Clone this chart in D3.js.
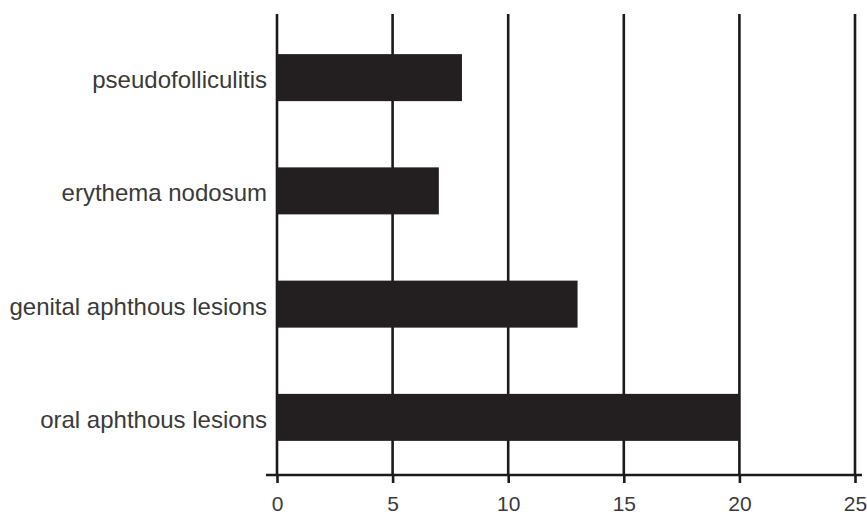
<!DOCTYPE html>
<html><head><meta charset="utf-8">
<script src="https://cdn.jsdelivr.net/npm/d3@7"></script>
<style>body{margin:0;background:#fff}</style>
</head><body>
<svg id="c" width="867" height="514"></svg>
<script>
const categories = ["pseudofolliculitis","erythema nodosum","genital aphthous lesions","oral aphthous lesions"];
const values = [8, 7, 13, 20];
const ticks = [0, 5, 10, 15, 20, 25];

const svg = d3.select("#c");
const x = d3.scaleLinear().domain([0,25]).range([277,855]);
const y = d3.scaleBand().domain(categories).range([21,474]).paddingInner(0.585).paddingOuter(0.2925);
const ink = "#1c1a1b";
const font = "'Liberation Sans', Arial, sans-serif";

// gridlines
svg.append("g").selectAll("line").data(ticks).join("line")
  .attr("x1", d=>x(d)).attr("x2", d=>x(d)).attr("y1", 14).attr("y2", 475)
  .attr("stroke", ink).attr("stroke-width", 2.6);

// bars
svg.append("g").selectAll("rect").data(values).join("rect")
  .attr("x", x(0)).attr("y", (d,i)=>y(categories[i]))
  .attr("width", d=>x(d)-x(0)).attr("height", y.bandwidth())
  .attr("fill", "#231f20");

// x axis
const xa = svg.append("g").attr("transform","translate(0,475)")
  .call(d3.axisBottom(x).tickValues(ticks).tickSize(8).tickPadding(13).tickSizeOuter(0));
xa.select(".domain").remove();
xa.append("line").attr("x1",266).attr("x2",862).attr("y1",0).attr("y2",0).attr("stroke",ink).attr("stroke-width",2.6);
xa.selectAll(".tick line").attr("stroke",ink).attr("stroke-width",2.6);
xa.selectAll(".tick text").attr("fill","#3a3a3a").style("font-family",font).style("font-size","21px");

// y labels
svg.append("g").selectAll("text").data(categories).join("text")
  .attr("x", 267).attr("y", d=>y(d)+y.bandwidth()/2+2).attr("dy","0.35em")
  .attr("text-anchor","end").attr("fill","#3a3a3a")
  .style("font-family",font).style("font-size","24px")
  .text(d=>d);
</script>
</body></html>
